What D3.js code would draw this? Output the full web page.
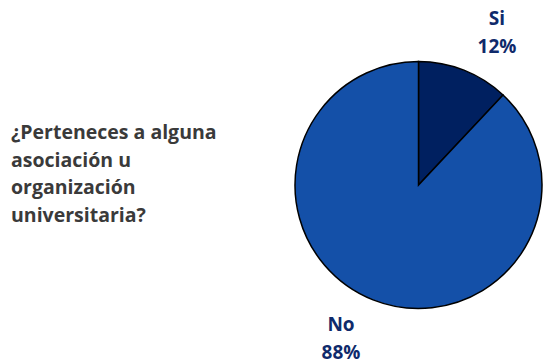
<!DOCTYPE html>
<html><head><meta charset="utf-8">
<script src="https://cdn.jsdelivr.net/npm/d3@7"></script>
<style>body{margin:0;background:#fff}svg{display:block}</style>
</head><body>
<script>
const categories = ["Si", "No"];
const values = [12, 88];
const colors = ["#002060", "#1450A8"];
const titleLines = ["¿Perteneces a alguna", "asociación u", "organización", "universitaria?"];

const W = 550, H = 364;
const svg = d3.select("body").append("svg").attr("width", W).attr("height", H);
const cx = 418.5, cy = 185, r = 123.5;

const pie = d3.pie().sort(null).value(d => d.v);
const data = pie(categories.map((c, i) => ({c, v: values[i], col: colors[i]})));
const arc = d3.arc().innerRadius(0).outerRadius(r);
const g = svg.append("g").attr("transform", `translate(${cx},${cy})`);
g.selectAll("path").data(data).join("path")
  .attr("d", arc).attr("fill", d => d.data.col)
  .attr("stroke", "#000").attr("stroke-width", 1.5);

const font = "'Open Sans', sans-serif";
const t = svg.append("text").attr("font-family", font).attr("font-weight", 700)
  .attr("font-size", 19.5).attr("fill", "#3a3a3a");
titleLines.forEach((l, i) => t.append("tspan").attr("x", 11).attr("y", 139 + i * 27.5).text(l));

const labelPos = [[497, 25], [341, 331]];
data.forEach((d, i) => {
  const lt = svg.append("text").attr("font-family", font).attr("font-weight", 700)
    .attr("font-size", 19).attr("fill", "#0f2a6b").attr("text-anchor", "middle");
  lt.append("tspan").attr("x", labelPos[i][0]).attr("y", labelPos[i][1]).text(d.data.c);
  lt.append("tspan").attr("x", labelPos[i][0]).attr("y", labelPos[i][1] + 28).text(d3.format(".0%")(d.data.v / 100));
});
</script>
</body></html>
